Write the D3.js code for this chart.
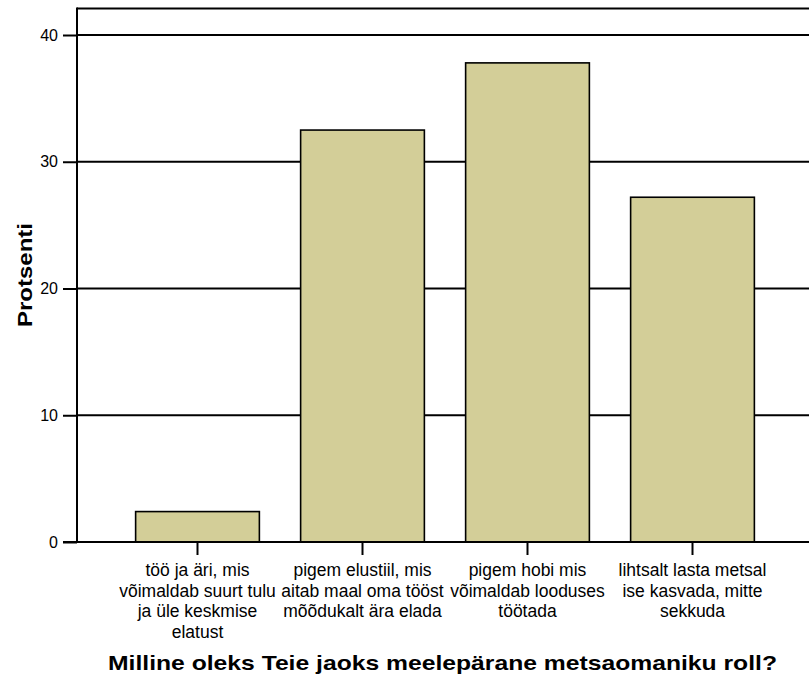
<!DOCTYPE html>
<html>
<head>
<meta charset="utf-8">
<script src="https://cdn.jsdelivr.net/npm/d3@7"></script>
<style>
  html, body { margin: 0; padding: 0; background: #fff; }
  svg { display: block; font-family: Arial, "Liberation Sans", sans-serif; }
</style>
</head>
<body>
<svg id="chart" width="809" height="679"></svg>
<script>
const categories = [
  ["töö ja äri, mis", "võimaldab suurt tulu", "ja üle keskmise", "elatust"],
  ["pigem elustiil, mis", "aitab maal oma tööst", "mõõdukalt ära elada"],
  ["pigem hobi mis", "võimaldab looduses", "töötada"],
  ["lihtsalt lasta metsal", "ise kasvada, mitte", "sekkuda"]
];
const values = [2.4, 32.5, 37.8, 27.2];
const yTicks = [0, 10, 20, 30, 40];
const yTitle = "Protsenti";
const xTitle = "Milline oleks Teie jaoks meelepärane metsaomaniku roll?";

const svg = d3.select("#chart");
const pLeft = 77, pRight = 809, pTop = 8.5, pBottom = 542;

const keys = categories.map((c, i) => i);
const x = d3.scaleBand().domain(keys).range([115, 775]).paddingInner(0.25).paddingOuter(0.125);
const y = d3.scaleLinear().domain([0, 40]).range([pBottom, 35]);

// gridlines
svg.append("g").selectAll("line").data(yTicks.filter(d => d > 0)).join("line")
  .attr("x1", pLeft).attr("x2", pRight)
  .attr("y1", d => y(d)).attr("y2", d => y(d))
  .attr("stroke", "#000").attr("stroke-width", 2);

// frame top
svg.append("line").attr("x1", pLeft).attr("x2", pRight).attr("y1", pTop).attr("y2", pTop)
  .attr("stroke", "#000").attr("stroke-width", 2);

// bars
svg.append("g").selectAll("rect").data(values).join("rect")
  .attr("x", (d, i) => x(i))
  .attr("width", x.bandwidth())
  .attr("y", d => y(d))
  .attr("height", d => y(0) - y(d))
  .attr("fill", "#d3ce98")
  .attr("stroke", "#000").attr("stroke-width", 1.6);

// y axis
const yAxis = d3.axisLeft(y).tickValues(yTicks).tickSize(14).tickPadding(5);
const yg = svg.append("g").attr("transform", `translate(${pLeft},0)`).call(yAxis);
yg.select(".domain").remove();
yg.append("line").attr("x1", 0).attr("x2", 0).attr("y1", pTop - 1).attr("y2", pBottom + 1)
  .attr("stroke", "#000").attr("stroke-width", 2);
yg.selectAll(".tick line").attr("stroke", "#000").attr("stroke-width", 2);
yg.selectAll(".tick text").attr("font-size", 16).attr("fill", "#000")
  .attr("font-family", "Arial, 'Liberation Sans', sans-serif");

// x axis
const xAxis = d3.axisBottom(x).tickSize(13).tickFormat("");
const xg = svg.append("g").attr("transform", `translate(0,${pBottom})`).call(xAxis);
xg.select(".domain").remove();
xg.append("line").attr("x1", 63).attr("x2", pRight).attr("y1", 0).attr("y2", 0)
  .attr("stroke", "#000").attr("stroke-width", 2);
xg.selectAll(".tick line").attr("stroke", "#000").attr("stroke-width", 2);

// category labels
const lab = svg.append("g").selectAll("text").data(categories).join("text")
  .attr("text-anchor", "middle")
  .attr("font-size", 17.5)
  .attr("fill", "#000");
lab.each(function(lines, i) {
  const cx = x(i) + x.bandwidth() / 2;
  d3.select(this).selectAll("tspan").data(lines).join("tspan")
    .attr("x", cx)
    .attr("y", (l, j) => 576 + j * 20.7)
    .text(l => l);
});

// y title
svg.append("text")
  .attr("transform", "translate(32,275) rotate(-90)")
  .attr("text-anchor", "middle")
  .attr("font-weight", "bold")
  .attr("font-size", 21)
  .attr("textLength", 104)
  .attr("lengthAdjust", "spacingAndGlyphs")
  .attr("fill", "#000")
  .text(yTitle);

// x title
svg.append("text")
  .attr("x", 442.5).attr("y", 670)
  .attr("text-anchor", "middle")
  .attr("font-weight", "bold")
  .attr("font-size", 21)
  .attr("textLength", 669)
  .attr("lengthAdjust", "spacingAndGlyphs")
  .attr("fill", "#000")
  .text(xTitle);
</script>
</body>
</html>
